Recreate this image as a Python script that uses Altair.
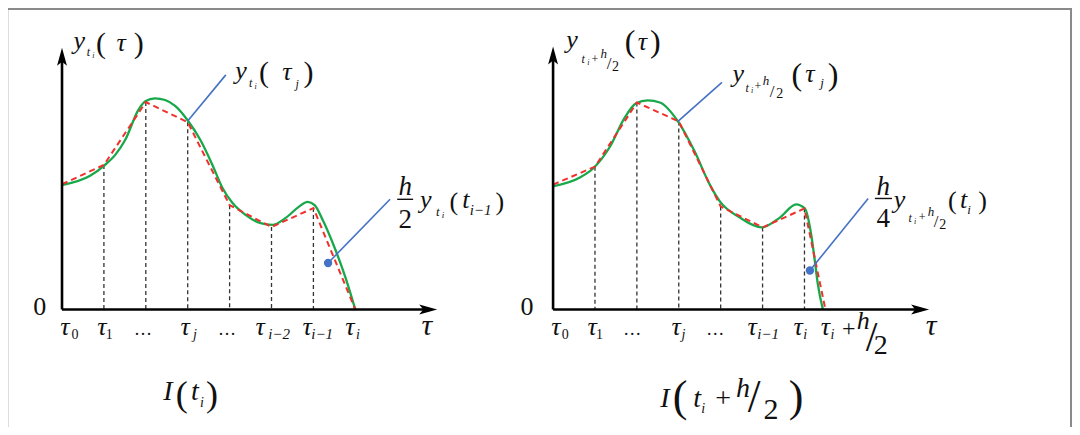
import altair as alt
import pandas as pd

# ---------------- geometry of the drawing (data units: 1 unit = tau spacing) -------------
R_OFF = 11.72                      # horizontal offset of right panel (units)
XDOM = [-1.289, 24.105]
YDOM = [-2.804, 7.196]

# ---------------- curve data ---------------------------------------
green_L_x = [0, 0.67, 1.0, 1.27, 1.51, 1.82, 1.99, 2.22, 2.46, 2.70, 3.01, 3.30, 3.59, 3.83,
             4.07, 4.38, 4.74, 5.02, 5.33, 5.65, 5.86, 6.03, 6.22, 6.48, 6.77, 7.0]
green_L_y = [2.97, 3.19, 3.43, 3.69, 4.05, 4.76, 4.97, 5.04, 5.00, 4.86, 4.50, 4.05, 3.45, 2.90,
             2.54, 2.26, 2.06, 2.02, 2.18, 2.45, 2.57, 2.49, 2.14, 1.54, 0.75, 0.0]
green_R_x = [0, 0.64, 0.98, 1.36, 1.71, 1.98, 2.26, 2.55, 2.98, 3.38, 3.74, 3.98, 4.45, 4.98,
             5.42, 5.80, 6.01, 6.16, 6.25, 6.32, 6.44]
green_R_y = [2.94, 3.15, 3.39, 3.89, 4.58, 4.92, 4.99, 4.94, 4.49, 3.77, 2.98, 2.58, 2.20, 1.96,
             2.20, 2.51, 2.41, 1.79, 1.14, 0.60, 0.0]

red_L_x = [0, 1, 2, 3, 4, 5, 6, 7]
red_L_y = [2.99, 3.45, 4.95, 4.47, 2.49, 1.97, 2.42, 0.0]
red_R_x = [0, 1, 2, 3, 4, 5, 6, 6.5]
red_R_y = [2.98, 3.41, 4.94, 4.49, 2.46, 1.96, 2.41, 0.0]

# axes: (panel, x0, y0, x1, y1)
axes_rows = [("L", 0, 0, 0, 6.03), ("L", 0, 0, 8.74, 0),
             ("R", 0, 0, 0, 6.06), ("R", 0, 0, 8.76, 0)]
arrow_up = [("L", 0, 6.03), ("R", 0, 6.06)]
arrow_right = [("L", 8.74, 0), ("R", 8.76, 0)]

# blue callouts
callout_lines = [("L", 3.0, 4.5, 3.91, 5.6), ("L", 6.35, 1.11, 7.83, 2.63),
                 ("R", 2.98, 4.49, 4.03, 5.42), ("R", 6.13, 0.93, 7.52, 2.65)]
callout_dots = [("L", 6.35, 1.11), ("R", 6.13, 0.93)]
frac_bars = [("L", 8.0, 8.38, 2.63), ("R", 7.68, 8.09, 2.65)]

# text pieces: (panel, x, y-baseline, text, size, italic)
texts = [
    # ---- left panel ----
    ("L", 0.41, 6.22, "y", 26, True), ("L", 0.63, 6.05, "t", 12, True), ("L", 0.75, 6.00, "i", 8, True),
    ("L", 0.93, 6.13, "(", 30, False), ("L", 1.41, 6.17, "τ", 26, True), ("L", 1.83, 6.13, ")", 30, False),
    ("L", 4.27, 5.50, "y", 26, True), ("L", 4.50, 5.31, "t", 12, True), ("L", 4.62, 5.26, "i", 8, True),
    ("L", 4.82, 5.43, "(", 30, False), ("L", 5.37, 5.48, "τ", 26, True), ("L", 5.61, 5.29, "j", 12, True),
    ("L", 5.88, 5.43, ")", 30, False),
    ("L", 8.19, 2.73, "h", 27, True), ("L", 8.19, 1.94, "2", 27, False),
    ("L", 8.68, 2.42, "y", 26, True), ("L", 8.97, 2.24, "t", 13, True), ("L", 9.09, 2.19, "i", 9, True),
    ("L", 9.35, 2.37, "(", 26, False), ("L", 9.64, 2.42, "t", 26, True), ("L", 9.99, 2.26, "i−1", 15, True),
    ("L", 10.45, 2.37, ")", 26, False),
    ("L", -0.53, -0.13, "0", 26, False),
    ("L", 0.07, -0.61, "τ", 26, True), ("L", 0.31, -0.70, "0", 14, False),
    ("L", 0.95, -0.61, "τ", 26, True), ("L", 1.13, -0.70, "1", 14, False),
    ("L", 1.93, -0.61, "…", 18, False),
    ("L", 2.94, -0.61, "τ", 26, True), ("L", 3.17, -0.70, "j", 14, True),
    ("L", 3.94, -0.61, "…", 18, False),
    ("L", 4.73, -0.61, "τ", 26, True), ("L", 5.18, -0.70, "i−2", 15, True),
    ("L", 5.85, -0.61, "τ", 26, True), ("L", 6.21, -0.70, "i−1", 15, True),
    ("L", 6.87, -0.61, "τ", 26, True), ("L", 7.06, -0.70, "i", 14, True),
    ("L", 8.71, -0.61, "τ", 30, True),
    ("L", 2.53, -2.16, "I", 28, True), ("L", 2.86, -2.30, "(", 36, False), ("L", 3.17, -2.16, "t", 28, True),
    ("L", 3.34, -2.33, "i", 14, True), ("L", 3.58, -2.30, ")", 36, False),
    # ---- right panel ----
    ("R", 0.45, 6.23, "y", 26, True), ("R", 0.72, 5.88, "t", 12, True), ("R", 0.84, 5.83, "i", 8, True),
    ("R", 1.00, 5.89, "+", 12, False), ("R", 1.21, 6.00, "h", 13, True), ("R", 1.34, 5.74, "/", 17, False),
    ("R", 1.49, 5.70, "2", 14, False), ("R", 1.84, 6.14, "(", 32, False), ("R", 2.13, 6.19, "τ", 26, True),
    ("R", 2.44, 6.14, ")", 32, False),
    ("R", 4.42, 5.42, "y", 26, True), ("R", 4.63, 5.20, "t", 12, True), ("R", 4.75, 5.16, "i", 8, True),
    ("R", 4.89, 5.23, "+", 12, False), ("R", 5.08, 5.35, "h", 13, True), ("R", 5.23, 5.08, "/", 17, False),
    ("R", 5.41, 5.04, "2", 14, False), ("R", 5.82, 5.37, "(", 32, False), ("R", 6.13, 5.44, "τ", 26, True),
    ("R", 6.42, 5.30, "j", 13, True), ("R", 6.68, 5.37, ")", 32, False),
    ("R", 7.88, 2.74, "h", 27, True), ("R", 7.88, 1.96, "4", 27, False),
    ("R", 8.27, 2.43, "y", 26, True), ("R", 8.52, 2.10, "t", 12, True), ("R", 8.64, 2.05, "i", 8, True),
    ("R", 8.81, 2.12, "+", 12, False), ("R", 9.02, 2.24, "h", 13, True), ("R", 9.14, 1.97, "/", 17, False),
    ("R", 9.30, 1.93, "2", 14, False), ("R", 9.53, 2.39, "(", 26, False), ("R", 9.80, 2.43, "t", 26, True),
    ("R", 9.93, 2.29, "i", 13, True), ("R", 10.25, 2.39, ")", 26, False),
    ("R", -0.62, -0.13, "0", 26, False),
    ("R", 0.07, -0.61, "τ", 26, True), ("R", 0.29, -0.70, "0", 14, False),
    ("R", 0.93, -0.61, "τ", 26, True), ("R", 1.11, -0.70, "1", 14, False),
    ("R", 1.89, -0.61, "…", 18, False),
    ("R", 2.94, -0.61, "τ", 26, True), ("R", 3.11, -0.70, "j", 14, True),
    ("R", 3.87, -0.61, "…", 18, False),
    ("R", 4.75, -0.61, "τ", 26, True), ("R", 5.13, -0.70, "i−1", 15, True),
    ("R", 5.85, -0.61, "τ", 26, True), ("R", 6.02, -0.70, "i", 14, True),
    ("R", 6.50, -0.61, "τ", 26, True), ("R", 6.67, -0.70, "i", 14, True),
    ("R", 7.06, -0.63, "+", 24, False), ("R", 7.40, -0.46, "h", 26, True),
    ("R", 7.60, -0.98, "/", 42, False), ("R", 7.82, -1.06, "2", 28, False),
    ("R", 9.02, -0.61, "τ", 30, True),
    ("R", 2.67, -2.33, "I", 28, True), ("R", 3.03, -2.42, "(", 44, False), ("R", 3.44, -2.33, "t", 28, True),
    ("R", 3.58, -2.46, "i", 14, True), ("R", 4.06, -2.33, "+", 28, False), ("R", 4.53, -2.08, "h", 28, True),
    ("R", 4.80, -2.45, "/", 46, False), ("R", 5.20, -2.62, "2", 30, False), ("R", 5.80, -2.42, ")", 44, False),
]

OFFSET = {"L": 0.0, "R": R_OFF}

# ---------------- build tables -----------------
def shift(df, cols):
    for c in cols:
        df[c] = df[c] + df["panel"].map(OFFSET)
    return df

green = pd.concat([
    pd.DataFrame({"panel": "L", "x": green_L_x, "y": green_L_y}),
    pd.DataFrame({"panel": "R", "x": green_R_x, "y": green_R_y}),
], ignore_index=True)
green = shift(green, ["x"])

red = pd.concat([
    pd.DataFrame({"panel": "L", "x": red_L_x, "y": red_L_y}),
    pd.DataFrame({"panel": "R", "x": red_R_x, "y": red_R_y}),
], ignore_index=True)
red = shift(red, ["x"])

drops = pd.concat([
    pd.DataFrame({"panel": "L", "x": red_L_x[1:-1], "y": red_L_y[1:-1]}),
    pd.DataFrame({"panel": "R", "x": red_R_x[1:-1], "y": red_R_y[1:-1]}),
], ignore_index=True)
drops = shift(drops, ["x"])
drops["y0"] = 0.0

axes = shift(pd.DataFrame(axes_rows, columns=["panel", "x", "y", "x2", "y2"]), ["x", "x2"])
aup = shift(pd.DataFrame(arrow_up, columns=["panel", "x", "y"]), ["x"])
aright = shift(pd.DataFrame(arrow_right, columns=["panel", "x", "y"]), ["x"])
clines = shift(pd.DataFrame(callout_lines, columns=["panel", "x", "y", "x2", "y2"]), ["x", "x2"])
cdots = shift(pd.DataFrame(callout_dots, columns=["panel", "x", "y"]), ["x"])
bars = shift(pd.DataFrame(frac_bars, columns=["panel", "x", "x2", "y"]), ["x", "x2"])
tx = shift(pd.DataFrame(texts, columns=["panel", "x", "y", "t", "size", "it"]), ["x"])

XS = alt.Scale(domain=XDOM, nice=False, zero=False)
YS = alt.Scale(domain=YDOM, nice=False, zero=False)
X = lambda f="x": alt.X(f"{f}:Q", scale=XS, axis=None)
Y = lambda f="y": alt.Y(f"{f}:Q", scale=YS, axis=None)

FONT = "'Liberation Serif', 'Times New Roman', 'DejaVu Serif', serif"
BLUE = "#4472c4"

layers = []
layers.append(alt.Chart(drops).mark_rule(color="#333333", strokeWidth=1.3, strokeDash=[4, 3]).encode(
    x=X(), y=Y(), y2="y0:Q"))
layers.append(alt.Chart(green).mark_line(color="#17a84a", strokeWidth=2.3, interpolate="monotone").encode(
    x=X(), y=Y(), detail="panel:N", order="x:Q"))
layers.append(alt.Chart(red).mark_line(color="#f0302c", strokeWidth=2, strokeDash=[6, 4]).encode(
    x=X(), y=Y(), detail="panel:N", order="x:Q"))
layers.append(alt.Chart(axes).mark_rule(color="black", strokeWidth=2.6).encode(
    x=X(), y=Y(), x2="x2:Q", y2="y2:Q"))
layers.append(alt.Chart(aup).mark_point(shape="M0,-1L0.55,1L0,0.55L-0.55,1Z", filled=True, size=324,
                                        color="black", opacity=1, strokeWidth=0).encode(x=X(), y=Y()))
layers.append(alt.Chart(aright).mark_point(shape="M1,0L-1,0.55L-0.55,0L-1,-0.55Z", filled=True, size=324,
                                           color="black", opacity=1, strokeWidth=0).encode(x=X(), y=Y()))
layers.append(alt.Chart(clines).mark_rule(color=BLUE, strokeWidth=1.6).encode(
    x=X(), y=Y(), x2="x2:Q", y2="y2:Q"))
layers.append(alt.Chart(cdots).mark_circle(color=BLUE, size=70, opacity=1).encode(x=X(), y=Y()))
layers.append(alt.Chart(bars).mark_rule(color="#111111", strokeWidth=1.4).encode(
    x=X(), x2="x2:Q", y=Y()))
layers.append(alt.Chart(tx).transform_filter("datum.it").mark_text(
    font=FONT, fontStyle="italic", baseline="alphabetic", align="center", color="#111111").encode(
    x=X(), y=Y(), text="t:N", size=alt.Size("size:Q", scale=None)))
layers.append(alt.Chart(tx).transform_filter("!datum.it").mark_text(
    font=FONT, baseline="alphabetic", align="center", color="#111111").encode(
    x=X(), y=Y(), text="t:N", size=alt.Size("size:Q", scale=None)))
# outer frame (top and right edges)
frame = alt.Chart(pd.DataFrame({"k": [0]})).mark_rule(color="#8a8a8a", strokeWidth=2)
layers.append(frame.encode(x=alt.value(0), x2=alt.value(1064), y=alt.value(1)))
layers.append(frame.encode(x=alt.value(1063), y=alt.value(0), y2=alt.value(419)))

chart = alt.layer(*layers).properties(
    width=1064, height=419, padding=0, autosize=alt.AutoSizeParams(type="none")
).configure_view(stroke=None).configure(background="white")

chart.save("out.html", embed_options={"renderer": "svg", "actions": False})
